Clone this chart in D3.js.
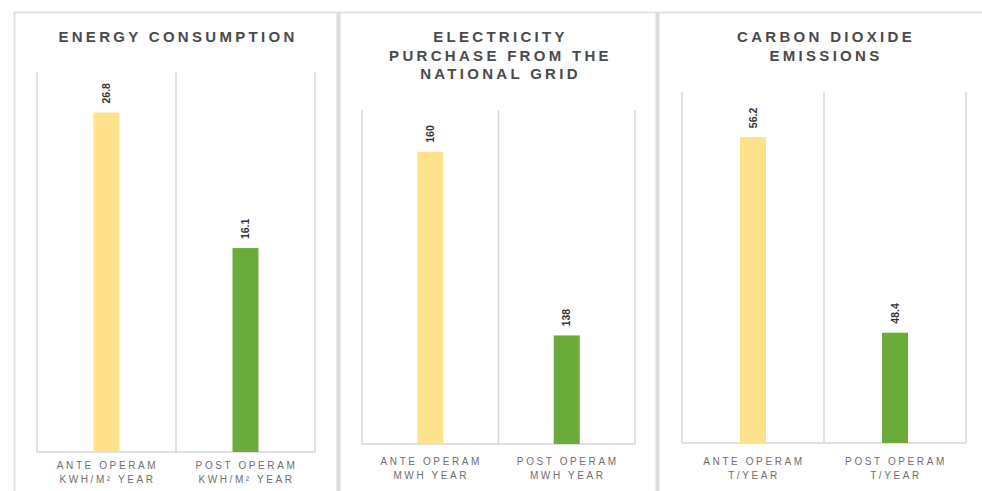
<!DOCTYPE html>
<html>
<head>
<meta charset="utf-8">
<script src="https://cdn.jsdelivr.net/npm/d3@7"></script>
<style>
  body { margin: 0; background: #fff; }
  text { font-family: "Liberation Sans", Arial, sans-serif; }
</style>
</head>
<body>
<div id="chart"></div>
<script>
// data
const titles = [
  ["ENERGY CONSUMPTION"],
  ["ELECTRICITY", "PURCHASE FROM THE", "NATIONAL GRID"],
  ["CARBON DIOXIDE", "EMISSIONS"]
];
const categories = ["ANTE OPERAM", "POST OPERAM"];
const units = ["KWH/M\u00B2 YEAR", "MWH YEAR", "T/YEAR"];
const anteValues = [26.8, 160, 56.2];
const postValues = [16.1, 138, 48.4];
const domains = [[0, 30], [125, 165], [44, 58]];

// layout of each panel (plot box in page pixels)
const boxes = [
  {x0: 37, x1: 315, top: 72, bottom: 452, lab: 465},
  {x0: 362, x1: 635, top: 110, bottom: 444, lab: 461},
  {x0: 682, x1: 966, top: 92, bottom: 443, lab: 461}
];
const colors = ["#fde18b", "#6aab3b"];

let W = 982, H = 491;
let svg = d3.select("#chart").append("svg")
    .attr("width", W)
    .attr("height", H);

// card frames
svg.append("line").attr("x1", 14).attr("x2", W).attr("y1", 12.5).attr("y2", 12.5)
    .attr("stroke", "#e4e4e4").attr("stroke-width", 2);
svg.append("line").attr("x1", 14.5).attr("x2", 14.5).attr("y1", 12).attr("y2", H)
    .attr("stroke", "#e0e0e0").attr("stroke-width", 2);
[338.5, 657.5].forEach(function(x) {
  svg.append("line").attr("x1", x).attr("x2", x).attr("y1", 12).attr("y2", H)
      .attr("stroke", "#dcdcdc").attr("stroke-width", 4);
});

boxes.forEach(function(b, i) {
  let g = svg.append("g");
  let vals = [anteValues[i], postValues[i]];

  let x = d3.scaleBand().domain(categories).range([b.x0, b.x1]);
  let y = d3.scaleLinear().domain(domains[i]).range([b.bottom, b.top]);
  let barW = 26;

  // title
  let cx = (b.x0 + b.x1) / 2;
  g.selectAll(".title")
      .data(titles[i])
    .enter().append("text")
      .attr("x", cx + 2)
      .attr("y", function(d, k) { return 42 + k * 18.5; })
      .attr("text-anchor", "middle")
      .attr("font-size", 15)
      .attr("font-weight", "bold")
      .attr("letter-spacing", 3.3)
      .attr("fill", "#4a4a4a")
      .text(function(d) { return d; });

  // vertical gridlines at band edges
  let edges = categories.map(function(c) { return x(c); }).concat([b.x1]);
  g.selectAll(".grid")
      .data(edges)
    .enter().append("line")
      .attr("x1", function(d) { return d; })
      .attr("x2", function(d) { return d; })
      .attr("y1", y(domains[i][1]))
      .attr("y2", y(domains[i][0]))
      .attr("stroke", "#d6d6d6")
      .attr("stroke-width", 1.5);
  g.append("line")
      .attr("x1", b.x0).attr("x2", b.x1)
      .attr("y1", y(domains[i][0])).attr("y2", y(domains[i][0]))
      .attr("stroke", "#d6d6d6")
      .attr("stroke-width", 1.5);

  // bars
  g.selectAll(".bar")
      .data(vals)
    .enter().append("rect")
      .attr("x", function(d, k) { return x(categories[k]) + x.bandwidth() / 2 - barW / 2; })
      .attr("width", barW)
      .attr("y", function(d) { return y(d); })
      .attr("height", function(d) { return y(domains[i][0]) - y(d); })
      .attr("fill", function(d, k) { return colors[k]; });

  // value labels
  g.selectAll(".val")
      .data(vals)
    .enter().append("text")
      .attr("transform", function(d, k) {
        let px = x(categories[k]) + x.bandwidth() / 2;
        return "translate(" + px + "," + (y(d) - 9) + ") rotate(-90)";
      })
      .attr("dy", "0.35em")
      .attr("font-size", 10.5)
      .attr("font-weight", "bold")
      .attr("fill", "#333")
      .text(function(d) { return d; });

  // category labels
  categories.forEach(function(c) {
    let lx = x(c) + x.bandwidth() / 2 + 1;
    g.append("text")
        .attr("x", lx).attr("y", b.lab + 4)
        .attr("text-anchor", "middle")
        .attr("font-size", 10)
        .attr("letter-spacing", 2.6)
        .attr("fill", "#6e6e6e")
        .text(c);
    g.append("text")
        .attr("x", lx).attr("y", b.lab + 18)
        .attr("text-anchor", "middle")
        .attr("font-size", 10)
        .attr("letter-spacing", 2.6)
        .attr("fill", "#6e6e6e")
        .text(units[i]);
  });
});
</script>
</body>
</html>
